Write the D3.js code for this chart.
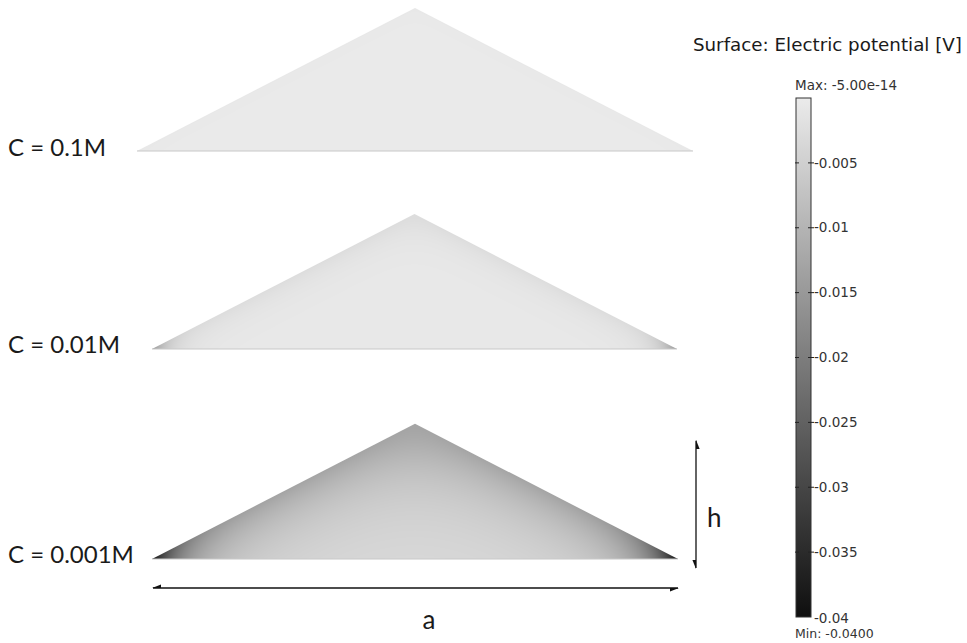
<!DOCTYPE html>
<html>
<head>
<meta charset="utf-8">
<script src="https://cdn.jsdelivr.net/npm/d3@7"></script>
<style>
  body { margin: 0; background: #fff; }
  svg { display: block; }
</style>
</head>
<body>
<svg id="chart" width="967" height="643"></svg>
<script>
// values (potential in V, lengths in units of a)
const concentrations = ["C = 0.1M", "C = 0.01M", "C = 0.001M"];
const bulkPotential = [-0.0002, -0.0005, -0.0031];
const wallPotential = [-0.0005, -0.0026, -0.0128];
const cornerPotential = [-0.0009, -0.0160, -0.0400];
const wallDecay = [0.012, 0.025, 0.065];
const cornerDecay = [0.008, 0.013, 0.025];
const heightRatio = 0.257; // h / a

const colorTicks = [-0.04, -0.035, -0.03, -0.025, -0.02, -0.015, -0.01, -0.005];
const colorTickLabels = ["-0.04", "-0.035", "-0.03", "-0.025", "-0.02", "-0.015", "-0.01", "-0.005"];
const colorMin = -0.04, colorMax = -5e-14;
const maxLabel = "Max: -5.00e-14", minLabel = "Min: -0.0400";
const legendTitle = "Surface: Electric potential [V]";

// layout of the three triangles
const panels = [
  {x0: 137, x1: 693, yBase: 151, labelY: 148},
  {x0: 152, x1: 677, yBase: 349, labelY: 345},
  {x0: 152, x1: 678, yBase: 559, labelY: 555}
];

const svg = d3.select("#chart");
const color = d3.scaleLinear().domain([colorMin, colorMax]).range(["#0f0f0f", "#ebebeb"]).clamp(true);

const defs = svg.append("defs");

panels.forEach(function(p, i){
  const width = p.x1 - p.x0;
  const H = heightRatio;
  const x = d3.scaleLinear().domain([0, 1]).range([p.x0, p.x1]);
  const y = d3.scaleLinear().domain([0, H]).range([p.yBase, p.yBase - width * H]);
  const verts = [[0, 0], [0.5, H], [1, 0]];

  // field on a pixel grid
  const left = Math.floor(x(0)), top = Math.floor(y(H)), right = Math.ceil(x(1)), bottom = Math.ceil(y(0));
  const cw = right - left, ch = bottom - top;
  const canvas = document.createElement("canvas");
  canvas.width = cw; canvas.height = ch;
  const ctx = canvas.getContext("2d");
  const img = ctx.createImageData(cw, ch);
  const norm = Math.sqrt(1 + 4 * H * H);
  for(let py = 0; py < ch; ++py){
    for(let px = 0; px < cw; ++px){
      const u = x.invert(left + px + 0.5), w = Math.max(0, y.invert(top + py + 0.5));
      const uc = Math.min(Math.max(u, 0), 1);
      const dL = Math.max(0, (2 * H * uc - w) / norm);
      const dR = Math.max(0, (2 * H * (1 - uc) - w) / norm);
      const eL = Math.exp(-dL / wallDecay[i]), eR = Math.exp(-dR / wallDecay[i]);
      const edge = 1 - (1 - eL) * (1 - eR);
      const localH = 2 * H * Math.min(uc, 1 - uc);
      const corner = Math.exp(-localH / cornerDecay[i]);
      const v = bulkPotential[i] + (wallPotential[i] - bulkPotential[i]) * edge + (cornerPotential[i] - wallPotential[i]) * corner;
      const c = d3.rgb(color(v));
      const k = (py * cw + px) * 4;
      img.data[k] = c.r; img.data[k + 1] = c.g; img.data[k + 2] = c.b; img.data[k + 3] = 255;
    }
  }
  ctx.putImageData(img, 0, 0);

  const line = d3.line().x(d => x(d[0])).y(d => y(d[1]));
  defs.append("clipPath").attr("id", "tri" + i)
    .append("path").attr("d", line(verts) + "Z");

  svg.append("image")
    .attr("x", left).attr("y", top)
    .attr("width", cw).attr("height", ch)
    .attr("href", canvas.toDataURL())
    .attr("clip-path", "url(#tri" + i + ")");

  // thin base line
  svg.append("line")
    .attr("x1", x(0)).attr("x2", x(1))
    .attr("y1", y(0)).attr("y2", y(0))
    .attr("stroke", "#c8c8c8").attr("stroke-width", 1);

  svg.append("text")
    .attr("x", 8).attr("y", p.labelY)
    .attr("dy", "0.35em")
    .attr("font-family", "Lato, 'Open Sans', sans-serif")
    .attr("font-size", 24)
    .attr("fill", "#1a1a1a")
    .text(concentrations[i]);
});

// dimension arrows (a and h), from the bottom triangle
const bp = panels[2];
defs.append("marker").attr("id", "head")
  .attr("viewBox", "0 0 10 10").attr("refX", 9).attr("refY", 5)
  .attr("markerWidth", 7).attr("markerHeight", 7)
  .attr("orient", "auto-start-reverse")
  .append("path").attr("d", "M0,5 L10,5 L0,9 Z").attr("fill", "#111");

svg.append("line")
  .attr("x1", bp.x0 + 1).attr("x2", bp.x1)
  .attr("y1", 588).attr("y2", 588)
  .attr("stroke", "#111").attr("stroke-width", 1.3)
  .attr("marker-start", "url(#head)").attr("marker-end", "url(#head)");
svg.append("text").attr("x", (bp.x0 + bp.x1) / 2 + 14).attr("y", 620).attr("dy", "0.35em")
  .attr("text-anchor", "middle")
  .attr("font-family", "Lato, 'Open Sans', sans-serif").attr("font-size", 26).attr("fill", "#1a1a1a")
  .text("a");

const hTop = bp.yBase - (bp.x1 - bp.x0) * heightRatio;
svg.append("line")
  .attr("x1", 696).attr("x2", 696)
  .attr("y1", hTop + 17).attr("y2", bp.yBase + 9)
  .attr("stroke", "#111").attr("stroke-width", 1.3)
  .attr("marker-start", "url(#head)").attr("marker-end", "url(#head)");
svg.append("text").attr("x", 707).attr("y", 518).attr("dy", "0.35em")
  .attr("font-family", "Lato, 'Open Sans', sans-serif").attr("font-size", 26).attr("fill", "#1a1a1a")
  .text("h");

// colour legend
const barX = 796, barW = 15;
const cy = d3.scaleLinear().domain([colorMin, colorMax]).range([617, 98]);

const grad = defs.append("linearGradient").attr("id", "bar")
  .attr("x1", 0).attr("x2", 0).attr("y1", 1).attr("y2", 0);
d3.range(0, 1.0001, 0.1).forEach(function(t){
  const v = colorMin + t * (colorMax - colorMin);
  grad.append("stop").attr("offset", t).attr("stop-color", color(v));
});

svg.append("rect")
  .attr("x", barX).attr("y", cy(colorMax))
  .attr("width", barW).attr("height", cy(colorMin) - cy(colorMax))
  .attr("fill", "url(#bar)").attr("stroke", "#333").attr("stroke-width", 1);

const ticks = svg.append("g").attr("class", "ticks");
colorTicks.forEach(function(t, j){
  if(j > 0){
    ticks.append("line").attr("x1", barX - 1).attr("x2", barX + 3)
      .attr("y1", cy(t)).attr("y2", cy(t)).attr("stroke", "#222");
    ticks.append("line").attr("x1", barX + barW - 3).attr("x2", barX + barW + 3)
      .attr("y1", cy(t)).attr("y2", cy(t)).attr("stroke", "#222");
  }
  ticks.append("text")
    .attr("x", barX + barW + 3).attr("y", cy(t) + (j === 0 ? 1 : 0)).attr("dy", "0.35em")
    .attr("font-family", "'DejaVu Sans', Verdana, sans-serif").attr("font-size", 13.5)
    .attr("fill", "#333")
    .text(colorTickLabels[j]);
});

svg.append("text").attr("x", barX - 1).attr("y", 85).attr("dy", "0.35em")
  .attr("font-family", "'DejaVu Sans', Verdana, sans-serif").attr("font-size", 13.5).attr("fill", "#333")
  .text(maxLabel);
svg.append("text").attr("x", barX - 1).attr("y", 634).attr("dy", "0.35em")
  .attr("font-family", "'DejaVu Sans', Verdana, sans-serif").attr("font-size", 12.5).attr("fill", "#333")
  .text(minLabel);

svg.append("text").attr("x", 962).attr("y", 45).attr("dy", "0.35em")
  .attr("text-anchor", "end")
  .attr("font-family", "'DejaVu Sans', Verdana, sans-serif").attr("font-size", 18.3).attr("fill", "#1a1a1a")
  .text(legendTitle);
</script>
</body>
</html>
